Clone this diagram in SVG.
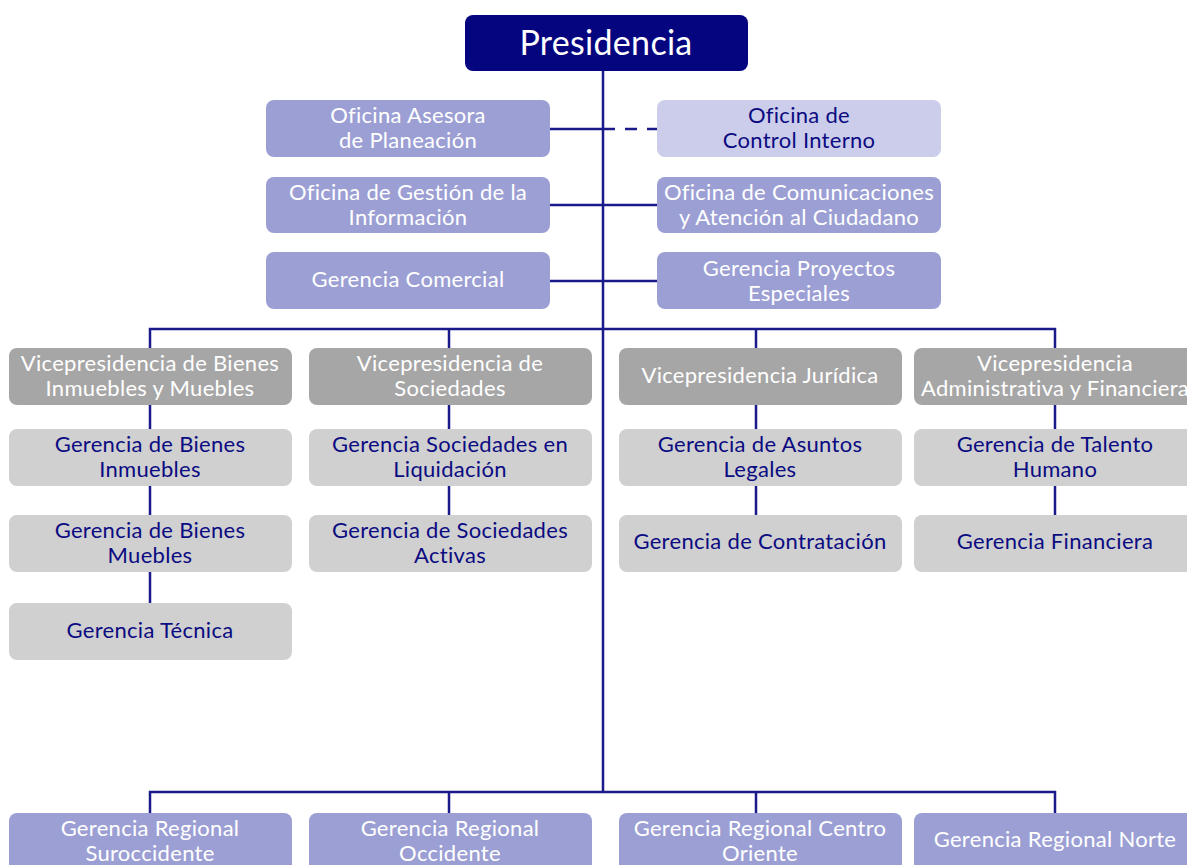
<svg xmlns="http://www.w3.org/2000/svg" width="1187" height="865" viewBox="0 0 1187 865">
<style>
text{font-family:Lato,"Open Sans","Liberation Sans",sans-serif;font-size:22px;letter-spacing:0.3px;text-anchor:middle}
.w{fill:#ffffff}.n{fill:#0b0b82}
.pres{fill:#050580}.lav{fill:#9c9fd4}.light{fill:#cccdea}.vp{fill:#a6a6a6}.g{fill:#d0d0d0}
.c{stroke:#1a1a8a;stroke-width:2.5;fill:none}
</style>
<rect width="1187" height="865" fill="#ffffff"/>
<g id="connectors">
<path class="c" d="M603 71V792"/>
<path class="c" d="M550 129H603"/>
<path class="c" d="M603 129H657" stroke-dasharray="12,10"/>
<path class="c" d="M550 205H657"/>
<path class="c" d="M550 281H657"/>
<path class="c" d="M150 348V329H1055V348M449 329V348M756 329V348"/>
<path class="c" d="M150 405V429M150 486V515M150 572V603"/>
<path class="c" d="M449 405V429M449 486V515"/>
<path class="c" d="M756 405V429M756 486V515"/>
<path class="c" d="M1055 405V429M1055 486V515"/>
<path class="c" d="M150 813V792H1055V813M449 792V813M756 792V813"/>
</g>
<g id="presidencia"><rect class="pres" x="465" y="15" width="283" height="56" rx="8"/><text class="w" x="606" y="55" style="font-size:34px">Presidencia</text></g>
<g id="asesora"><rect class="lav" x="266" y="100" width="284" height="57" rx="8"/><text class="w" x="408" y="123">Oficina Asesora</text><text class="w" x="408" y="148">de Planeación</text></g>
<g id="control"><rect class="light" x="657" y="100" width="284" height="57" rx="8"/><text class="n" x="799" y="123">Oficina de</text><text class="n" x="799" y="148">Control Interno</text></g>
<g id="gestion"><rect class="lav" x="266" y="177" width="284" height="56" rx="8"/><text class="w" x="408" y="200">Oficina de Gestión de la</text><text class="w" x="408" y="225">Información</text></g>
<g id="comunicaciones"><rect class="lav" x="657" y="177" width="284" height="56" rx="8"/><text class="w" x="799" y="200">Oficina de Comunicaciones</text><text class="w" x="799" y="225">y Atención al Ciudadano</text></g>
<g id="comercial"><rect class="lav" x="266" y="252" width="284" height="57" rx="8"/><text class="w" x="408" y="287">Gerencia Comercial</text></g>
<g id="proyectos"><rect class="lav" x="657" y="252" width="284" height="57" rx="8"/><text class="w" x="799" y="276">Gerencia Proyectos</text><text class="w" x="799" y="301">Especiales</text></g>
<g id="vp-bienes"><rect class="vp" x="9" y="348" width="283" height="57" rx="8"/><text class="w" x="150" y="371">Vicepresidencia de Bienes</text><text class="w" x="150" y="396">Inmuebles y Muebles</text></g>
<g id="vp-sociedades"><rect class="vp" x="309" y="348" width="283" height="57" rx="8"/><text class="w" x="450" y="371">Vicepresidencia de</text><text class="w" x="450" y="396">Sociedades</text></g>
<g id="vp-juridica"><rect class="vp" x="619" y="348" width="283" height="57" rx="8"/><text class="w" x="760" y="383">Vicepresidencia Jurídica</text></g>
<g id="vp-admin"><rect class="vp" x="914" y="348" width="283" height="57" rx="8"/><text class="w" x="1055" y="371">Vicepresidencia</text><text class="w" x="1055" y="396">Administrativa y Financiera</text></g>
<g id="g-inmuebles"><rect class="g" x="9" y="429" width="283" height="57" rx="8"/><text class="n" x="150" y="452">Gerencia de Bienes</text><text class="n" x="150" y="477">Inmuebles</text></g>
<g id="g-muebles"><rect class="g" x="9" y="515" width="283" height="57" rx="8"/><text class="n" x="150" y="538">Gerencia de Bienes</text><text class="n" x="150" y="563">Muebles</text></g>
<g id="g-tecnica"><rect class="g" x="9" y="603" width="283" height="57" rx="8"/><text class="n" x="150" y="638">Gerencia Técnica</text></g>
<g id="g-liquidacion"><rect class="g" x="309" y="429" width="283" height="57" rx="8"/><text class="n" x="450" y="452">Gerencia Sociedades en</text><text class="n" x="450" y="477">Liquidación</text></g>
<g id="g-activas"><rect class="g" x="309" y="515" width="283" height="57" rx="8"/><text class="n" x="450" y="538">Gerencia de Sociedades</text><text class="n" x="450" y="563">Activas</text></g>
<g id="g-legales"><rect class="g" x="619" y="429" width="283" height="57" rx="8"/><text class="n" x="760" y="452">Gerencia de Asuntos</text><text class="n" x="760" y="477">Legales</text></g>
<g id="g-contratacion"><rect class="g" x="619" y="515" width="283" height="57" rx="8"/><text class="n" x="760" y="549">Gerencia de Contratación</text></g>
<g id="g-talento"><rect class="g" x="914" y="429" width="283" height="57" rx="8"/><text class="n" x="1055" y="452">Gerencia de Talento</text><text class="n" x="1055" y="477">Humano</text></g>
<g id="g-financiera"><rect class="g" x="914" y="515" width="283" height="57" rx="8"/><text class="n" x="1055" y="549">Gerencia Financiera</text></g>
<g id="r-suroccidente"><rect class="lav" x="9" y="813" width="283" height="60" rx="8"/><text class="w" x="150" y="836">Gerencia Regional</text><text class="w" x="150" y="861">Suroccidente</text></g>
<g id="r-occidente"><rect class="lav" x="309" y="813" width="283" height="60" rx="8"/><text class="w" x="450" y="836">Gerencia Regional</text><text class="w" x="450" y="861">Occidente</text></g>
<g id="r-centro"><rect class="lav" x="619" y="813" width="283" height="60" rx="8"/><text class="w" x="760" y="836">Gerencia Regional Centro</text><text class="w" x="760" y="861">Oriente</text></g>
<g id="r-norte"><rect class="lav" x="914" y="813" width="283" height="60" rx="8"/><text class="w" x="1055" y="847">Gerencia Regional Norte</text></g>
</svg>
